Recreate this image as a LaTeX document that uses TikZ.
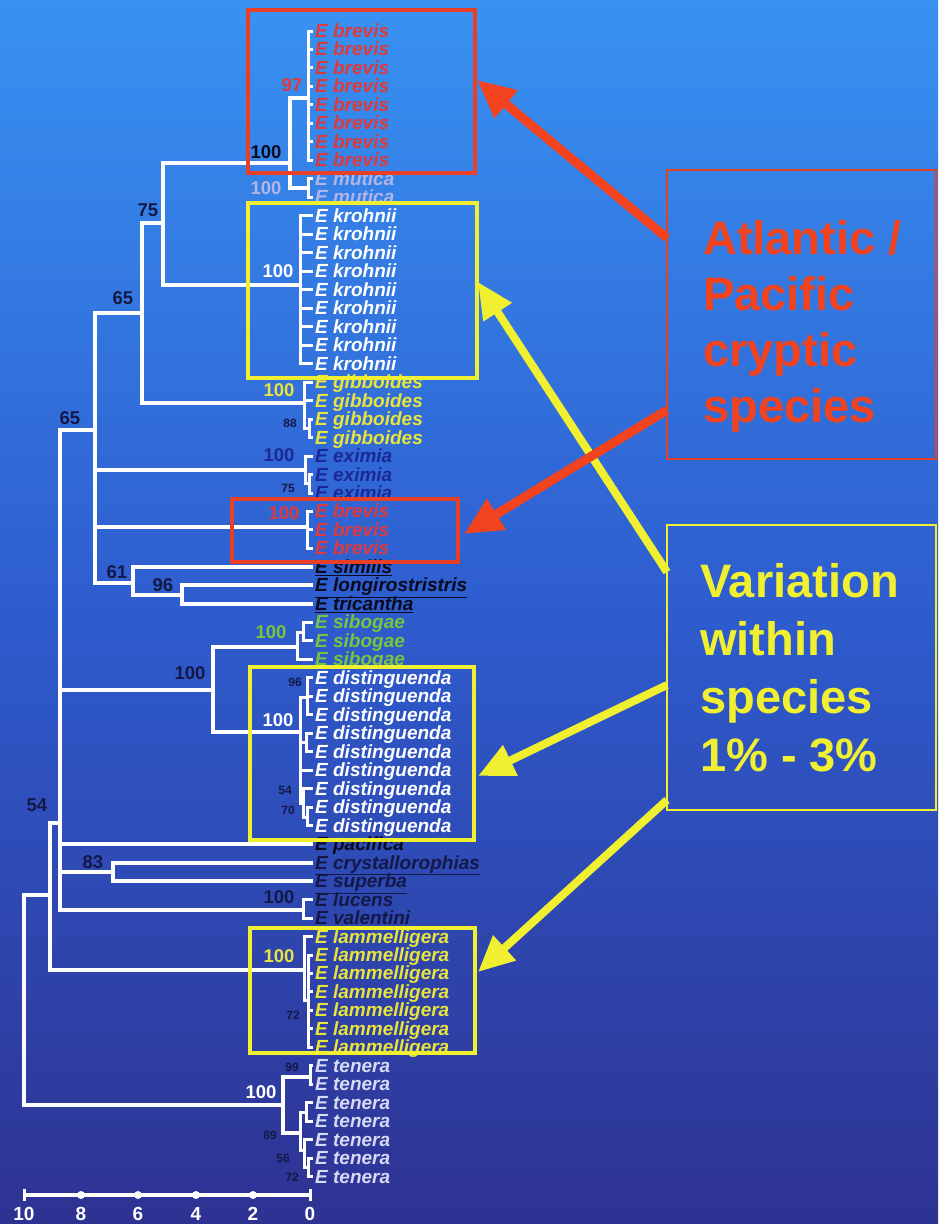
\documentclass[tikz,border=0pt]{standalone}
\usepackage{fontspec}
\setmainfont{Liberation Sans}
\usetikzlibrary{arrows.meta}
\definecolor{bgtop}{RGB}{56,146,242}
\definecolor{bgmid}{RGB}{46,92,206}
\definecolor{bgbot}{RGB}{46,50,146}
\definecolor{redtxt}{RGB}{222,58,60}
\definecolor{boxred}{RGB}{232,64,40}
\definecolor{arrred}{RGB}{242,66,30}
\definecolor{boxyel}{RGB}{240,240,48}
\definecolor{yeltxt}{RGB}{232,228,60}
\definecolor{darktxt}{RGB}{20,24,70}
\definecolor{blacktxt}{RGB}{10,10,30}
\definecolor{eximiac}{RGB}{28,40,150}
\definecolor{mutc}{RGB}{176,180,230}
\definecolor{sibc}{RGB}{120,196,64}
\definecolor{tenc}{RGB}{214,218,244}
\newcommand\mkleaf[3]{%
  \coordinate (L#1) at (311,{31+18.48*#1});
  \node[leaftxt,text=#2] (T#1) at (315,{37.5+18.48*#1}) {#3};}
\begin{document}
\begin{tikzpicture}[x=1pt,y=-1pt,
  br/.style={draw=white, line width=4pt, line cap=rect},
  tw/.style={draw=white, line width=3pt, line cap=rect},
  leaftxt/.style={anchor=base west, inner sep=0pt, font=\fontsize{19}{19}\selectfont\bfseries\itshape},
  bsbig/.style={inner sep=0pt, font=\fontsize{18.5}{18}\selectfont\bfseries},
  bssmall/.style={inner sep=0pt, text=darktxt, font=\fontsize{12}{12}\selectfont\bfseries},
  scl/.style={inner sep=0pt, text=white, font=\fontsize{19}{19}\selectfont\bfseries},
  hbox/.style={line width=4pt, anchor=north west, inner sep=0pt, outer sep=0pt},
  tbox/.style={line width=1.5pt, anchor=north west, inner sep=0pt, outer sep=0pt},
  bigtxt/.style={anchor=base west, inner sep=0pt, font=\fontsize{47}{50}\selectfont\bfseries},
  arr/.style={line width=9pt, -{Triangle[length=38pt,width=34pt]}},
  yarr/.style={line width=8pt, -{Triangle[length=36pt,width=32pt]}}]
\useasboundingbox (0,0) rectangle (938,1224);
\shade[top color=bgtop, bottom color=bgbot, middle color=bgmid] (0,0) rectangle (938,1224);

% ---------- leaves ----------
\foreach \k in {0,...,7}{\mkleaf{\k}{redtxt}{E brevis}}
\foreach \k in {8,9}{\mkleaf{\k}{mutc}{E mutica}}
\foreach \k in {10,...,18}{\mkleaf{\k}{white}{E krohnii}}
\foreach \k in {19,...,22}{\mkleaf{\k}{yeltxt}{E gibboides}}
\foreach \k in {23,24,25}{\mkleaf{\k}{eximiac}{E eximia}}
\foreach \k in {26,27,28}{\mkleaf{\k}{redtxt}{E brevis}}
\mkleaf{29}{blacktxt}{\underline{E similis}}
\mkleaf{30}{blacktxt}{\underline{E longirostristris}}
\mkleaf{31}{blacktxt}{\underline{E tricantha}}
\foreach \k in {32,33,34}{\mkleaf{\k}{sibc}{E sibogae}}
\foreach \k in {35,...,43}{\mkleaf{\k}{white}{E distinguenda}}
\mkleaf{44}{blacktxt}{E pacifica}
\mkleaf{45}{darktxt}{\underline{E crystallorophias}}
\mkleaf{46}{darktxt}{\underline{E superba}}
\mkleaf{47}{darktxt}{E lucens}
\mkleaf{48}{darktxt}{E valentini}
\foreach \k in {49,...,55}{\mkleaf{\k}{yeltxt}{E lammelligera}}
\foreach \k in {56,...,62}{\mkleaf{\k}{tenc}{E tenera}}

% ---------- internal nodes ----------
\coordinate (R) at (24,1000);
\coordinate (N54) at (50,895);
\coordinate (N60) at (60,823);
\coordinate (N65b) at (95,430);
\coordinate (N65a) at (142,313);
\coordinate (N75) at (163,223);
\coordinate (N100a) at (290,163);
\coordinate (Bre1) at (308,98);
\coordinate (Mut) at (308,188);
\coordinate (Kro) at (300,285);
\coordinate (Gib) at (304,403);
\coordinate (Gib2) at (309,428);
\coordinate (Exi) at (305,470);
\coordinate (Exi2) at (309,483);
\coordinate (Bre2) at (307,527);
\coordinate (N61) at (133,583);
\coordinate (N96) at (182,595);
\coordinate (Nsd) at (213,690);
\coordinate (Sib) at (297,647);
\coordinate (Sib2) at (303,632);
\coordinate (Dis) at (300,732);
\coordinate (DA) at (307,697);
\coordinate (DB) at (306,742);
\coordinate (DC) at (303,803);
\coordinate (DD) at (307,817);
\coordinate (N83) at (113,872);
\coordinate (Nlv) at (303,910);
\coordinate (Lam) at (304,970);
\coordinate (Lam2) at (308,1000);
\coordinate (Ten) at (283,1105);
\coordinate (Ten1) at (310,1077);
\coordinate (TenT) at (300,1133);
\coordinate (TS1) at (306,1112);
\coordinate (TS2) at (304,1150);
\coordinate (TS3) at (308,1167);

% ---------- branches ----------
\draw[br] (R) |- (N54);  \draw[br] (R) |- (Ten);
\draw[br] (N54) |- (N60); \draw[br] (N54) |- (Lam);
\draw[br] (N60) |- (N65b); \draw[br] (N60) |- (Nsd); \draw[br] (N60) |- (L44);
\draw[br] (N60) |- (N83); \draw[br] (N60) |- (Nlv);
\draw[br] (N65b) |- (N65a); \draw[br] (N65b) |- (Exi); \draw[br] (N65b) |- (Bre2); \draw[br] (N65b) |- (N61);
\draw[br] (N65a) |- (N75); \draw[br] (N65a) |- (Gib);
\draw[br] (N75) |- (N100a); \draw[br] (N75) |- (Kro);
\draw[br] (N100a) |- (Bre1); \draw[br] (N100a) |- (Mut);
\draw[br] (N61) |- (L29); \draw[br] (N61) |- (N96);
\draw[br] (N96) |- (L30); \draw[br] (N96) |- (L31);
\draw[br] (Nsd) |- (Sib); \draw[br] (Nsd) |- (Dis);
\draw[br] (N83) |- (L45); \draw[br] (N83) |- (L46);
\draw[br] (Ten) |- (Ten1); \draw[br] (Ten) |- (TenT);
\foreach \k in {0,...,7}{\draw[tw] (Bre1) |- (L\k);}
\foreach \k in {8,9}{\draw[tw] (Mut) |- (L\k);}
\foreach \k in {10,...,18}{\draw[tw] (Kro) |- (L\k);}
\draw[tw] (Gib) |- (L19); \draw[tw] (Gib) |- (L20); \draw[tw] (Gib) |- (Gib2);
\draw[tw] (Gib2) |- (L21); \draw[tw] (Gib2) |- (L22);
\draw[tw] (Exi) |- (L23); \draw[tw] (Exi) |- (Exi2);
\draw[tw] (Exi2) |- (L24); \draw[tw] (Exi2) |- (L25);
\foreach \k in {26,27,28}{\draw[tw] (Bre2) |- (L\k);}
\draw[tw] (Sib) |- (Sib2); \draw[tw] (Sib) |- (L34);
\draw[tw] (Sib2) |- (L32); \draw[tw] (Sib2) |- (L33);
\draw[tw] (Dis) |- (DA); \draw[tw] (Dis) |- (DB); \draw[tw] (Dis) |- (L40); \draw[tw] (Dis) |- (DC);
\foreach \k in {35,36,37}{\draw[tw] (DA) |- (L\k);}
\draw[tw] (DB) |- (L38); \draw[tw] (DB) |- (L39);
\draw[tw] (DC) |- (L41); \draw[tw] (DC) |- (DD);
\draw[tw] (DD) |- (L42); \draw[tw] (DD) |- (L43);
\draw[tw] (Nlv) |- (L47); \draw[tw] (Nlv) |- (L48);
\draw[tw] (Lam) |- (L49); \draw[tw] (Lam) |- (Lam2);
\foreach \k in {50,...,55}{\draw[tw] (Lam2) |- (L\k);}
\draw[tw] (Ten1) |- (L56); \draw[tw] (Ten1) |- (L57);
\draw[tw] (TenT) |- (TS1); \draw[tw] (TenT) |- (TS2);
\draw[tw] (TS1) |- (L58); \draw[tw] (TS1) |- (L59);
\draw[tw] (TS2) |- (L60); \draw[tw] (TS2) |- (TS3);
\draw[tw] (TS3) |- (L61); \draw[tw] (TS3) |- (L62);

% ---------- bootstrap values ----------
\node[bsbig, text=redtxt] (b97) at (292,85) {97};
\node[bsbig, text=blacktxt] (b100a) at (266,152) {100};
\node[bsbig, text=mutc] (b100m) at (266,188) {100};
\node[bsbig, text=darktxt] (b75) at (148,210) {75};
\node[bsbig, text=white] (b100k) at (278,271) {100};
\node[bsbig, text=darktxt] (b65a) at (123,298) {65};
\node[bsbig, text=yeltxt] (b100g) at (279,390) {100};
\node[bssmall] (b88) at (290,423) {88};
\node[bsbig, text=darktxt] (b65b) at (70,418) {65};
\node[bsbig, text=eximiac] (b100e) at (279,455) {100};
\node[bssmall] (b75e) at (288,488) {75};
\node[bsbig, text=redtxt] (b100b) at (284,513) {100};
\node[bsbig, text=darktxt] (b61) at (117,572) {61};
\node[bsbig, text=darktxt] (b96) at (163,585) {96};
\node[bsbig, text=sibc] (b100s) at (271,632) {100};
\node[bsbig, text=darktxt] (b100sd) at (190,673) {100};
\node[bssmall] (b96d) at (295,682) {96};
\node[bsbig, text=white] (b100d) at (278,720) {100};
\node[bssmall] (b54d) at (285,790) {54};
\node[bssmall] (b70d) at (288,810) {70};
\node[bsbig, text=darktxt] (b54) at (37,805) {54};
\node[bsbig, text=darktxt] (b83) at (93,862) {83};
\node[bsbig, text=darktxt] (b100lv) at (279,897) {100};
\node[bsbig, text=yeltxt] (b100l) at (279,956) {100};
\node[bssmall] (b72l) at (293,1015) {72};
\node[bssmall] (b99) at (292,1067) {99};
\node[bsbig, text=white] (b100t) at (261,1092) {100};
\node[bssmall] (b89) at (270,1135) {89};
\node[bssmall] (b56) at (283,1158) {56};
\node[bssmall] (b72t) at (292,1177) {72};

% ---------- scale bar ----------
\coordinate (s10) at (24,1195);
\coordinate (s0) at (310,1195);
\draw[white, line width=4pt] (s10) -- (s0);
\draw[white, line width=3pt] (24,1189) -- (24,1201);
\draw[white, line width=3pt] (310,1189) -- (310,1201);
\foreach \xx in {81,138,196,253}{\fill[white] (\xx,1195) circle (4);}
\node[scl] (sl10) at (24,1214) {10};
\node[scl] (sl8) at (81,1214) {8};
\node[scl] (sl6) at (138,1214) {6};
\node[scl] (sl4) at (196,1214) {4};
\node[scl] (sl2) at (253,1214) {2};
\node[scl] (sl0) at (310,1214) {0};

% ---------- highlight boxes ----------
\node[hbox, draw=boxred, minimum width=227pt, minimum height=163pt] (rb1) at (248,10) {};
\node[hbox, draw=boxyel, minimum width=229pt, minimum height=175pt] (yb1) at (248,203) {};
\node[hbox, draw=boxred, minimum width=226pt, minimum height=63pt] (rb2) at (232,499) {};
\node[hbox, draw=boxyel, minimum width=224pt, minimum height=173pt] (yb2) at (250,667) {};
\node[hbox, draw=boxyel, minimum width=225pt, minimum height=125pt] (yb3) at (250,928) {};

% ---------- text boxes ----------
\node[tbox, draw=boxred, minimum width=269pt, minimum height=289pt] (tbr) at (667,170) {};
\node[tbox, draw=boxyel, minimum width=269pt, minimum height=285pt] (tby) at (667,525) {};
\node[bigtxt, text=arrred] (r1) at (703,254) {Atlantic /};
\node[bigtxt, text=arrred] (r2) at (703,310) {Pacific};
\node[bigtxt, text=arrred] (r3) at (703,366) {cryptic};
\node[bigtxt, text=arrred] (r4) at (703,422) {species};
\node[bigtxt, text=boxyel] (y1) at (700,597) {Variation};
\node[bigtxt, text=boxyel] (y2) at (700,655) {within};
\node[bigtxt, text=boxyel] (y3) at (700,713) {species};
\node[bigtxt, text=boxyel] (y4) at (700,771) {1\% - 3\%};

% ---------- arrows ----------
\coordinate (a1s) at (667,238); \coordinate (a1e) at (477,80);
\coordinate (a2s) at (667,410); \coordinate (a2e) at (464,534);
\coordinate (a3s) at (667,572); \coordinate (a3e) at (478,282);
\coordinate (a4s) at (667,685); \coordinate (a4e) at (478,776);
\coordinate (a5s) at (667,800); \coordinate (a5e) at (478,972);
\draw[yarr, boxyel] (a3s) -- (a3e);
\draw[yarr, boxyel] (a4s) -- (a4e);
\draw[yarr, boxyel] (a5s) -- (a5e);
\draw[arr, arrred] (a1s) -- (a1e);
\draw[arr, arrred] (a2s) -- (a2e);
\end{tikzpicture}
\end{document}
